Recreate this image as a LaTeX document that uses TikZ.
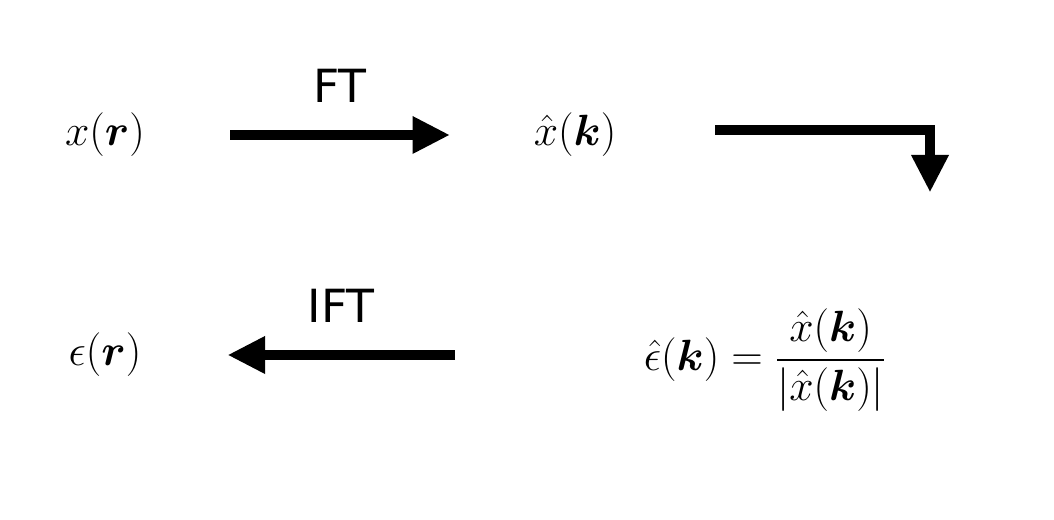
\documentclass[tikz,border=0pt]{standalone}
\usepackage{amsmath,bm}
\usepackage{fontspec}
\newfontfamily\lbl{DejaVu Sans}
\usetikzlibrary{arrows.meta}
\tikzset{
  mathnode/.style={inner sep=0pt,font=\fontsize{38}{46}\selectfont},
  lblnode/.style={inner sep=0pt,font=\lbl\fontsize{26}{30}\selectfont},
  bigarrow/.style={line width=0.2cm,-{Triangle[length=0.75cm,width=0.7cm]}}
}
\begin{document}
\begin{tikzpicture}
\useasboundingbox (0,0) rectangle (21.08,10.4);
\node[mathnode] (xr) at (2.1,7.7) {$x(\bm{r})$};
\node[mathnode] (xk) at (11.5,7.7) {$\hat{x}(\bm{k})$};
\node[mathnode] (er) at (2.1,3.3) {$\epsilon(\bm{r})$};
\node[mathnode] (eq) at (15.3,3.2) {$\hat{\epsilon}(\bm{k}) = \dfrac{\hat{x}(\bm{k})}{|\hat{x}(\bm{k})|}$};
\coordinate (a1s) at (4.6,7.7);
\coordinate (a1e) at (9.0,7.7);
\coordinate (a2s) at (14.3,7.8);
\coordinate (a2c) at (18.6,7.8);
\coordinate (a2e) at (18.6,6.55);
\coordinate (a3s) at (9.1,3.3);
\coordinate (a3e) at (4.55,3.3);
\draw[bigarrow] (a1s) -- (a1e) node[lblnode,midway,above=0.55cm] (ft) {FT};
\draw[bigarrow] (a2s) -- (a2c) -- (a2e);
\draw[bigarrow] (a3s) -- (a3e) node[lblnode,midway,above=0.55cm] (ift) {IFT};
\end{tikzpicture}
\end{document}
